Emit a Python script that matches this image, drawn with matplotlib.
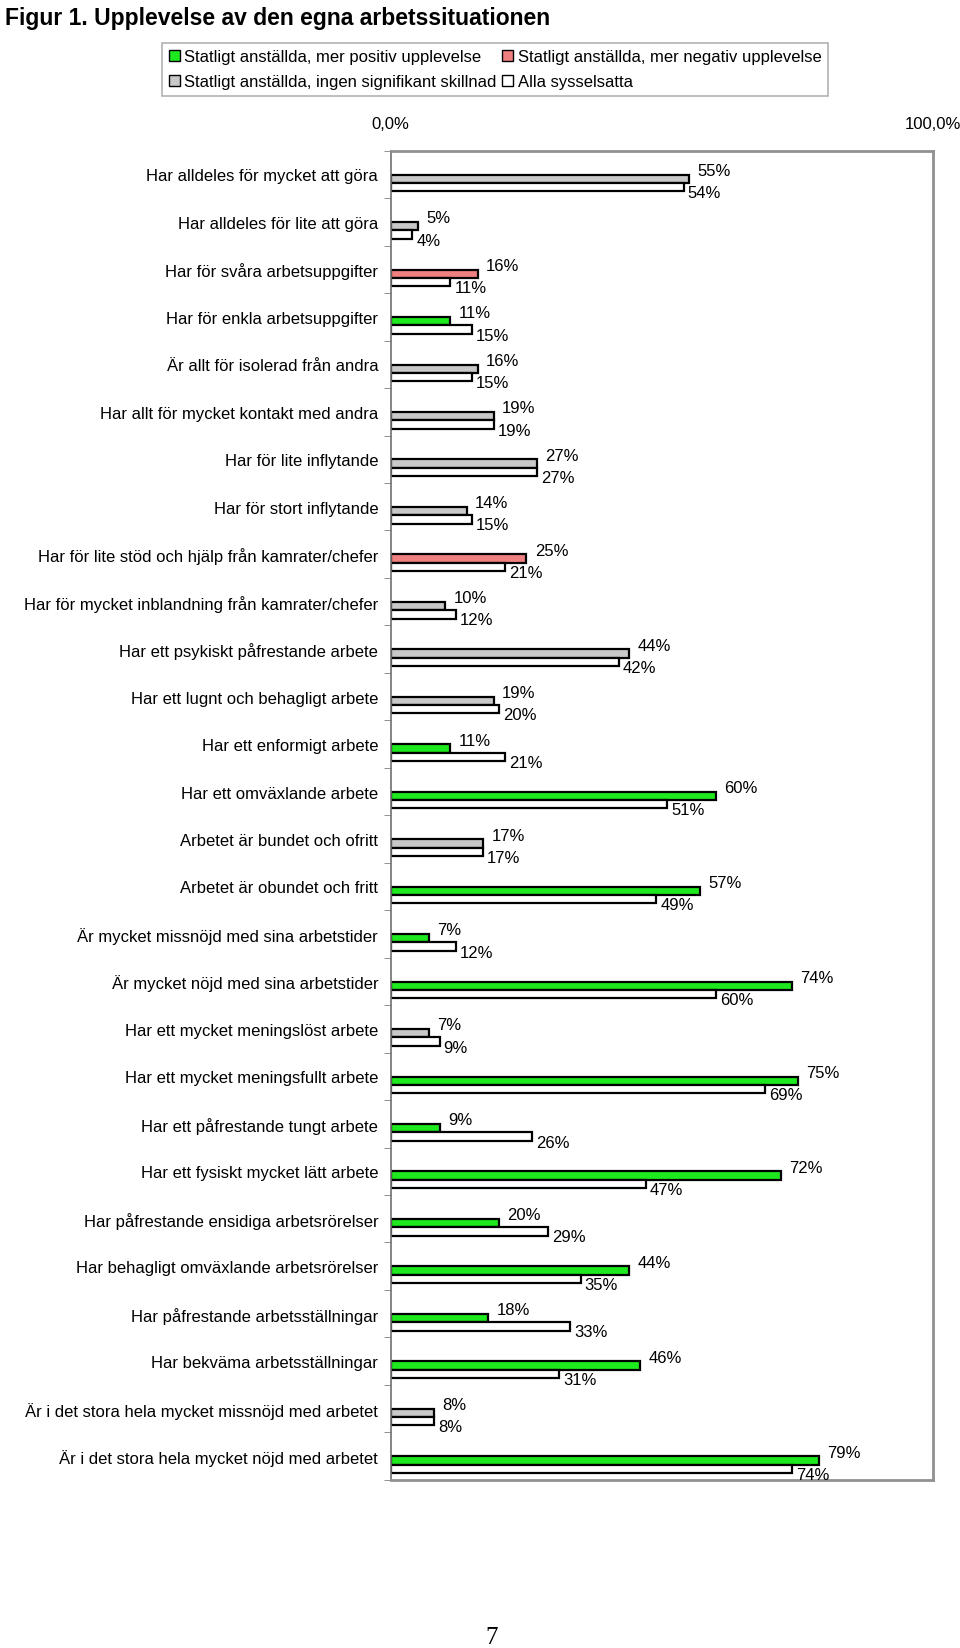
import matplotlib
matplotlib.use('Agg')
import matplotlib.pyplot as plt
from matplotlib.patches import Patch
import numpy as np

plt.rcParams['font.family'] = ['Liberation Sans', 'DejaVu Sans']

categories = [
    "Har alldeles för mycket att göra",
    "Har alldeles för lite att göra",
    "Har för svåra arbetsuppgifter",
    "Har för enkla arbetsuppgifter",
    "Är allt för isolerad från andra",
    "Har allt för mycket kontakt med andra",
    "Har för lite inflytande",
    "Har för stort inflytande",
    "Har för lite stöd och hjälp från kamrater/chefer",
    "Har för mycket inblandning från kamrater/chefer",
    "Har ett psykiskt påfrestande arbete",
    "Har ett lugnt och behagligt arbete",
    "Har ett enformigt arbete",
    "Har ett omväxlande arbete",
    "Arbetet är bundet och ofritt",
    "Arbetet är obundet och fritt",
    "Är mycket missnöjd med sina arbetstider",
    "Är mycket nöjd med sina arbetstider",
    "Har ett mycket meningslöst arbete",
    "Har ett mycket meningsfullt arbete",
    "Har ett påfrestande tungt arbete",
    "Har ett fysiskt mycket lätt arbete",
    "Har påfrestande ensidiga arbetsrörelser",
    "Har behagligt omväxlande arbetsrörelser",
    "Har påfrestande arbetsställningar",
    "Har bekväma arbetsställningar",
    "Är i det stora hela mycket missnöjd med arbetet",
    "Är i det stora hela mycket nöjd med arbetet",
]

statligt = [55, 5, 16, 11, 16, 19, 27, 14, 25, 10, 44, 19, 11, 60, 17, 57,
            7, 74, 7, 75, 9, 72, 20, 44, 18, 46, 8, 79]
alla = [54, 4, 11, 15, 15, 19, 27, 15, 21, 12, 42, 20, 21, 51, 17, 49,
        12, 60, 9, 69, 26, 47, 29, 35, 33, 31, 8, 74]
# p = mer positiv, n = mer negativ, i = ingen signifikant skillnad
skillnad = ['i', 'i', 'n', 'p', 'i', 'i', 'i', 'i', 'n', 'i', 'i', 'i', 'p', 'p',
            'i', 'p', 'p', 'p', 'i', 'p', 'p', 'p', 'p', 'p', 'p', 'p', 'i', 'p']

legend_labels = [
    "Statligt anställda, mer positiv upplevelse",
    "Statligt anställda, ingen signifikant skillnad",
    "Statligt anställda, mer negativ upplevelse",
    "Alla sysselsatta",
]

GREEN = '#1ee81e'
RED = '#f08080'
GRAY = '#c8c8c8'
colmap = {'p': GREEN, 'n': RED, 'i': GRAY}

fig = plt.figure(figsize=(9.6, 16.49), dpi=100)
ax = fig.add_axes([0.407, 0.102, 0.565, 0.806])

n = len(categories)
y = np.arange(n)
h = 0.175
shift = 0.18  # bars sit a bit below the category centre

ax.barh(y + shift - h / 2, statligt, height=h, color=[colmap[s] for s in skillnad],
        edgecolor='black', linewidth=1.6)
ax.barh(y + shift + h / 2, alla, height=h, color='white', edgecolor='black', linewidth=1.6)

for i in range(n):
    ax.annotate(f"{statligt[i]}%", (statligt[i], y[i] + shift - h / 2), xytext=(6, 6),
                textcoords='offset points', ha='left', va='center', fontsize=12)
    ax.annotate(f"{alla[i]}%", (alla[i], y[i] + shift + h / 2), xytext=(3, -4),
                textcoords='offset points', ha='left', va='center', fontsize=12)

ax.set_xlim(0, 100)
ax.set_ylim(n - 0.5, -0.5)
ax.xaxis.tick_top()
ax.set_xticks([0, 100])
ax.set_xticklabels(["0,0%", "100,0%"], fontsize=12)
ax.tick_params(axis='x', length=0, pad=14)

ax.set_yticks(y)
ax.set_yticklabels(categories, fontsize=12)
ax.tick_params(axis='y', which='major', length=0, pad=9)
ax.set_yticks(np.arange(n + 1) - 0.5, minor=True)
ax.tick_params(axis='y', which='minor', length=5, color='#808080', direction='out')

for side in ['top', 'right', 'bottom']:
    ax.spines[side].set_color('#909090')
    ax.spines[side].set_linewidth(2)
ax.spines['left'].set_color('#707070')
ax.spines['left'].set_linewidth(1.2)

fig.text(0.005, 0.9955, "Figur 1. Upplevelse av den egna arbetssituationen",
         fontsize=16.5, fontweight='bold', ha='left', va='top')

handles = [Patch(facecolor=GREEN, edgecolor='black'),
           Patch(facecolor=GRAY, edgecolor='black'),
           Patch(facecolor=RED, edgecolor='black'),
           Patch(facecolor='white', edgecolor='black')]
leg = fig.legend(handles, legend_labels, ncol=2, loc='upper left',
                 bbox_to_anchor=(0.16, 0.9785), fontsize=12, frameon=True,
                 fancybox=False, handlelength=0.7, handleheight=0.7,
                 handletextpad=0.25, columnspacing=0.3, labelspacing=0.6,
                 borderpad=0.4)
leg.get_frame().set_edgecolor('#a0a0a0')
leg.get_frame().set_linewidth(1.2)

fig.text(0.512, 0.0, "7", fontsize=18, family=['Liberation Serif', 'DejaVu Serif'],
         ha='center', va='bottom')

fig.savefig('out.png', dpi=100)
